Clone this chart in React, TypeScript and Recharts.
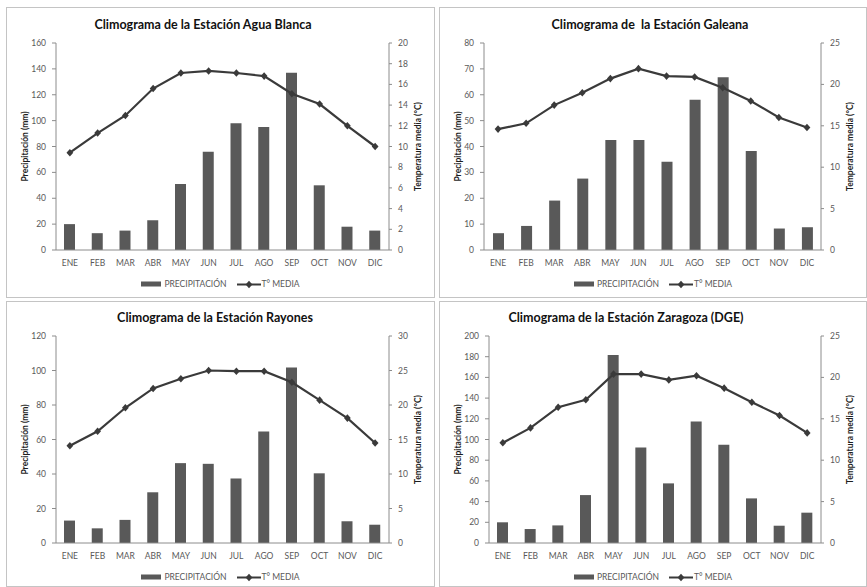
import React from 'react';
import { ComposedChart, Bar, Line, XAxis, YAxis, Legend, Label } from 'recharts';

const months = ['ENE', 'FEB', 'MAR', 'ABR', 'MAY', 'JUN', 'JUL', 'AGO', 'SEP', 'OCT', 'NOV', 'DIC'];

const aguaBlancaPrecip = [20, 13, 15, 23, 51, 76, 98, 95, 137, 50, 18, 15];
const aguaBlancaTemp = [9.4, 11.3, 13.0, 15.6, 17.1, 17.3, 17.1, 16.8, 15.1, 14.1, 12.0, 10.0];

const galeanaPrecip = [6.5, 9.3, 19.1, 27.6, 42.5, 42.5, 34.1, 58.1, 66.8, 38.3, 8.3, 8.8];
const galeanaTemp = [14.6, 15.3, 17.5, 19.0, 20.7, 21.9, 21.0, 20.9, 19.6, 18.0, 16.0, 14.8];

const rayonesPrecip = [13, 8.5, 13.4, 29.4, 46.3, 45.9, 37.4, 64.6, 101.8, 40.4, 12.6, 10.6];
const rayonesTemp = [14.1, 16.2, 19.6, 22.4, 23.8, 25.0, 24.9, 24.9, 23.3, 20.7, 18.1, 14.5];

const zaragozaPrecip = [20, 13.5, 17, 46.3, 181.7, 92.3, 57.6, 117.4, 94.9, 43.1, 16.7, 29.3];
const zaragozaTemp = [12.1, 13.9, 16.4, 17.3, 20.4, 20.4, 19.7, 20.2, 18.7, 17.0, 15.4, 13.3];

const aguaBlancaPrecipTicks = [0, 20, 40, 60, 80, 100, 120, 140, 160];
const aguaBlancaTempTicks = [0, 2, 4, 6, 8, 10, 12, 14, 16, 18, 20];
const galeanaPrecipTicks = [0, 10, 20, 30, 40, 50, 60, 70, 80];
const galeanaTempTicks = [0, 5, 10, 15, 20, 25];
const rayonesPrecipTicks = [0, 20, 40, 60, 80, 100, 120];
const rayonesTempTicks = [0, 5, 10, 15, 20, 25, 30];
const zaragozaPrecipTicks = [0, 20, 40, 60, 80, 100, 120, 140, 160, 180, 200];
const zaragozaTempTicks = [0, 5, 10, 15, 20, 25];

const categoryBoundaries = [0, 1, 2, 3, 4, 5, 6, 7, 8, 9, 10, 11, 12];

const FONT = 'Lato, "Open Sans", sans-serif';
const BAR = '#595959';
const LINE = '#3a3a3a';
const AXIS = '#8c8c8c';
const TICK = '#595959';

const minorTicks = (max: number, step: number) => {
  const out: number[] = [];
  for (let v = 0; v <= max + 1e-9; v += step) out.push(Math.round(v * 100) / 100);
  return out;
};

const Diamond = (props: any) => {
  const { cx, cy, index } = props;
  if (cx == null || cy == null) return <g key={`d${index}`} />;
  return (
    <path
      key={`d${index}`}
      d={`M${cx},${cy - 3.8}L${cx + 3.4},${cy}L${cx},${cy + 3.8}L${cx - 3.4},${cy}Z`}
      fill={LINE}
    />
  );
};

const axisTitle = (text: string, dx: number) => (props: any) => {
  const vb = props.viewBox || {};
  const x = (vb.x ?? 0) + dx;
  const y = (vb.y ?? 0) + (vb.height ?? 0) / 2;
  return (
    <text
      x={x}
      y={y}
      transform={`rotate(-90 ${x} ${y})`}
      textAnchor="middle"
      dominantBaseline="central"
      fontSize={8.5}
      fontWeight={700}
      fill="#1e1e1e"
      fontFamily={FONT}
    >
      {text}
    </text>
  );
};

const LegendContent = () => (
  <div
    style={{
      display: 'flex',
      justifyContent: 'center',
      alignItems: 'center',
      height: 18,
      fontFamily: FONT,
      fontSize: 8.5,
      color: TICK,
      whiteSpace: 'nowrap',
    }}
  >
    <svg width={20} height={6} style={{ display: 'block' }}>
      <rect x={0} y={0.5} width={20} height={5} fill={BAR} />
    </svg>
    <span style={{ marginLeft: 3 }}>PRECIPITACIÓN</span>
    <svg width={24} height={9} style={{ display: 'block', marginLeft: 10 }}>
      <line x1={0} y1={4.5} x2={24} y2={4.5} stroke={LINE} strokeWidth={2} />
      <path d="M12,0.7L15.4,4.5L12,8.3L8.6,4.5Z" fill={LINE} />
    </svg>
    <span style={{ marginLeft: 1 }}>T° MEDIA</span>
  </div>
);

type PanelProps = {
  left: number;
  top: number;
  width: number;
  height: number;
  title: string;
  titleX: number;
  titleY: number;
  precip: number[];
  temp: number[];
  precipTicks: number[];
  precipMinor: number;
  tempTicks: number[];
  leftAxisWidth: number;
  marginTop: number;
  marginBottom: number;
};

function Panel(p: PanelProps) {
  const data = months.map((m, i) => ({ mes: m, prec: p.precip[i], temp: p.temp[i] }));
  const pMax = p.precipTicks[p.precipTicks.length - 1];
  const tMax = p.tempTicks[p.tempTicks.length - 1];
  return (
    <>
      <div
        style={{
          position: 'absolute',
          left: p.left,
          top: p.top,
          width: p.width,
          height: p.height,
          boxSizing: 'border-box',
          border: '1px solid #c4c4c4',
          background: '#fff',
        }}
      />
      <div
        style={{
          position: 'absolute',
          left: p.titleX,
          top: p.titleY,
          transform: 'translate(-50%, -50%)',
          fontFamily: FONT,
          fontWeight: 700,
          fontSize: 12.5,
          color: '#111',
          whiteSpace: 'pre',
        }}
      >
        {p.title}
      </div>
      <div style={{ position: 'absolute', left: p.left, top: p.top }}>
        <ComposedChart
          width={p.width}
          height={p.height}
          data={data}
          margin={{ top: p.marginTop, right: 10, bottom: p.marginBottom, left: 10 }}
        >
          <XAxis
            xAxisId="minor"
            type="number"
            domain={[0, 12]}
            ticks={categoryBoundaries}
            interval={0}
            height={0}
            tick={false}
            tickSize={4}
            axisLine={false}
            tickLine={{ stroke: AXIS }}
            allowDataOverflow
          />
          <XAxis
            xAxisId="cat"
            dataKey="mes"
            interval={0}
            height={25}
            tickLine={false}
            tickSize={4}
            tickMargin={6}
            axisLine={{ stroke: AXIS }}
            tick={{ fontSize: 8.5, fill: TICK, fontFamily: FONT }}
          />
          <YAxis
            yAxisId="p"
            domain={[0, pMax]}
            ticks={p.precipTicks}
            interval={0}
            width={p.leftAxisWidth}
            tickSize={4}
            tickMargin={6}
            axisLine={{ stroke: AXIS }}
            tickLine={{ stroke: AXIS }}
            tick={{ fontSize: 8.5, fill: TICK, fontFamily: FONT }}
            allowDataOverflow
          >
            <Label content={axisTitle('Precipitación  (mm)', 9)} />
          </YAxis>
          <YAxis
            yAxisId="minor"
            mirror
            width={0}
            domain={[0, pMax]}
            ticks={minorTicks(pMax, p.precipMinor)}
            interval={0}
            tick={false}
            tickSize={2}
            axisLine={false}
            tickLine={{ stroke: AXIS }}
            allowDataOverflow
          />
          <YAxis
            yAxisId="t"
            orientation="right"
            domain={[0, tMax]}
            ticks={p.tempTicks}
            interval={0}
            width={36}
            tickSize={3}
            tickMargin={6}
            axisLine={{ stroke: AXIS }}
            tickLine={{ stroke: AXIS }}
            tick={{ fontSize: 8.5, fill: TICK, fontFamily: FONT }}
            allowDataOverflow
          >
            <Label content={axisTitle('Temperatura media (°C)', 29)} />
          </YAxis>
          <Bar
            xAxisId="cat"
            yAxisId="p"
            dataKey="prec"
            fill={BAR}
            barSize={11}
            isAnimationActive={false}
          />
          <Line
            xAxisId="cat"
            yAxisId="t"
            dataKey="temp"
            stroke={LINE}
            strokeWidth={2.2}
            dot={Diamond}
            activeDot={false}
            isAnimationActive={false}
          />
          <Legend verticalAlign="bottom" align="center" content={LegendContent} />
        </ComposedChart>
      </div>
    </>
  );
}

export default function App() {
  return (
    <div
      style={{
        position: 'absolute',
        left: 0,
        top: 0,
        width: 867,
        height: 587,
        background: '#fff',
        overflow: 'hidden',
      }}
    >
      <Panel
        left={6}
        top={7}
        width={429}
        height={291}
        title="Climograma de la Estación Agua Blanca"
        titleX={203}
        titleY={24}
        precip={aguaBlancaPrecip}
        temp={aguaBlancaTemp}
        precipTicks={aguaBlancaPrecipTicks}
        precipMinor={4}
        tempTicks={aguaBlancaTempTicks}
        leftAxisWidth={40}
        marginTop={36}
        marginBottom={5}
      />
      <Panel
        left={439}
        top={7}
        width={428}
        height={291}
        title="Climograma de  la Estación Galeana"
        titleX={650}
        titleY={24}
        precip={galeanaPrecip}
        temp={galeanaTemp}
        precipTicks={galeanaPrecipTicks}
        precipMinor={2}
        tempTicks={galeanaTempTicks}
        leftAxisWidth={35}
        marginTop={36}
        marginBottom={5}
      />
      <Panel
        left={6}
        top={301}
        width={429}
        height={286}
        title="Climograma de la Estación Rayones"
        titleX={215}
        titleY={317}
        precip={rayonesPrecip}
        temp={rayonesTemp}
        precipTicks={rayonesPrecipTicks}
        precipMinor={4}
        tempTicks={rayonesTempTicks}
        leftAxisWidth={40}
        marginTop={35}
        marginBottom={1}
      />
      <Panel
        left={439}
        top={301}
        width={428}
        height={286}
        title="Climograma de la Estación Zaragoza (DGE)"
        titleX={626}
        titleY={317}
        precip={zaragozaPrecip}
        temp={zaragozaTemp}
        precipTicks={zaragozaPrecipTicks}
        precipMinor={4}
        tempTicks={zaragozaTempTicks}
        leftAxisWidth={40}
        marginTop={35}
        marginBottom={1}
      />
    </div>
  );
}
